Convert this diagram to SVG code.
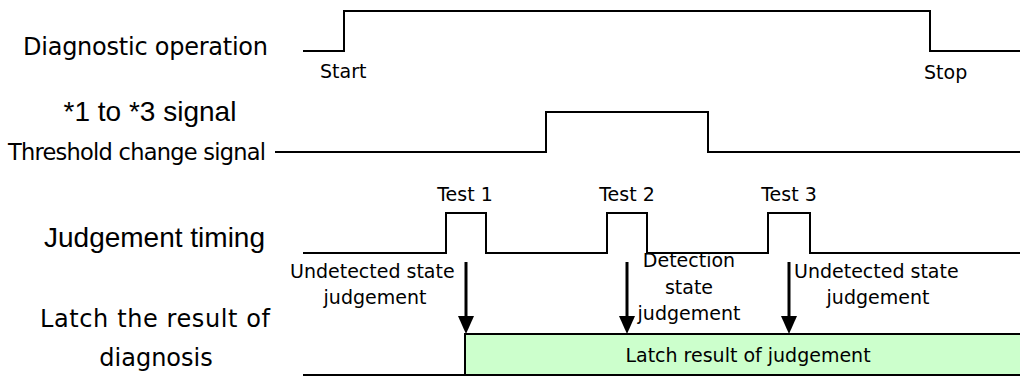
<svg xmlns="http://www.w3.org/2000/svg" width="1020" height="385" viewBox="0 0 1020 385">
<defs>
<style>
.sig{fill:none;stroke:#000;stroke-width:2}
.arr{fill:none;stroke:#000;stroke-width:3}
.big{font-family:"Liberation Sans",Arial,sans-serif;font-size:28px;fill:#000}
.goth{font-family:"DejaVu Sans","Noto Sans",sans-serif;font-size:24px;fill:#000}
.sm{font-family:"DejaVu Sans","Noto Sans",sans-serif;font-size:19px;fill:#000}
.mid{text-anchor:middle}
</style>
<marker id="ah" markerUnits="userSpaceOnUse" markerWidth="18" markerHeight="16" refX="0" refY="8" orient="auto" viewBox="0 0 18 16">
<path d="M0,0 L18,8 L0,16 Z" fill="#000"/>
</marker>
</defs>
<g id="diag-op">
<text class="goth" x="23" y="55" textLength="245">Diagnostic operation</text>
<path class="sig" d="M303,51 H344 V11 H930 V51 H1020"/>
<text class="sm" x="320" y="78">Start</text>
<text class="sm" x="924" y="79">Stop</text>
</g>
<g id="threshold">
<text class="big mid" x="150" y="121">*1 to *3 signal</text>
<text class="goth" x="8" y="160" style="font-size:22.5px" textLength="258">Threshold change signal</text>
<path class="sig" d="M275,152 H546 V112 H708 V152 H1020"/>
</g>
<g id="judgement">
<text class="big" x="44" y="247">Judgement timing</text>
<path class="sig" d="M303,253 H446 V213 H486 V253 H607 V213 H647 V253 H768 V213 H810 V253 H1020"/>
<text class="sm mid" x="465" y="201">Test 1</text>
<text class="sm mid" x="627" y="201">Test 2</text>
<text class="sm mid" x="789" y="201">Test 3</text>
</g>
<g id="latch">
<text class="goth" x="40" y="327" textLength="230">Latch the result of</text>
<text class="goth mid" x="156" y="366">diagnosis</text>
<rect x="465" y="334" width="560" height="41" fill="#ccffcc"/>
<path class="sig" d="M1020,334 H465 V375"/>
<path class="sig" d="M303,375 H1020"/>
<text class="sm mid" x="748" y="362">Latch result of judgement</text>
</g>
<g id="labels">
<text class="sm" x="290" y="278">Undetected state</text>
<text class="sm mid" x="375" y="304">judgement</text>
<text class="sm mid" x="689" y="267">Detection</text>
<text class="sm mid" x="689" y="294">state</text>
<text class="sm mid" x="689" y="320">judgement</text>
<text class="sm" x="794" y="278">Undetected state</text>
<text class="sm mid" x="878" y="304">judgement</text>
</g>
<g id="connectors">
<line class="arr" x1="466" y1="262" x2="466" y2="316" marker-end="url(#ah)"/>
<line class="arr" x1="627" y1="262" x2="627" y2="316" marker-end="url(#ah)"/>
<line class="arr" x1="789" y1="262" x2="789" y2="316" marker-end="url(#ah)"/>
</g>
</svg>
